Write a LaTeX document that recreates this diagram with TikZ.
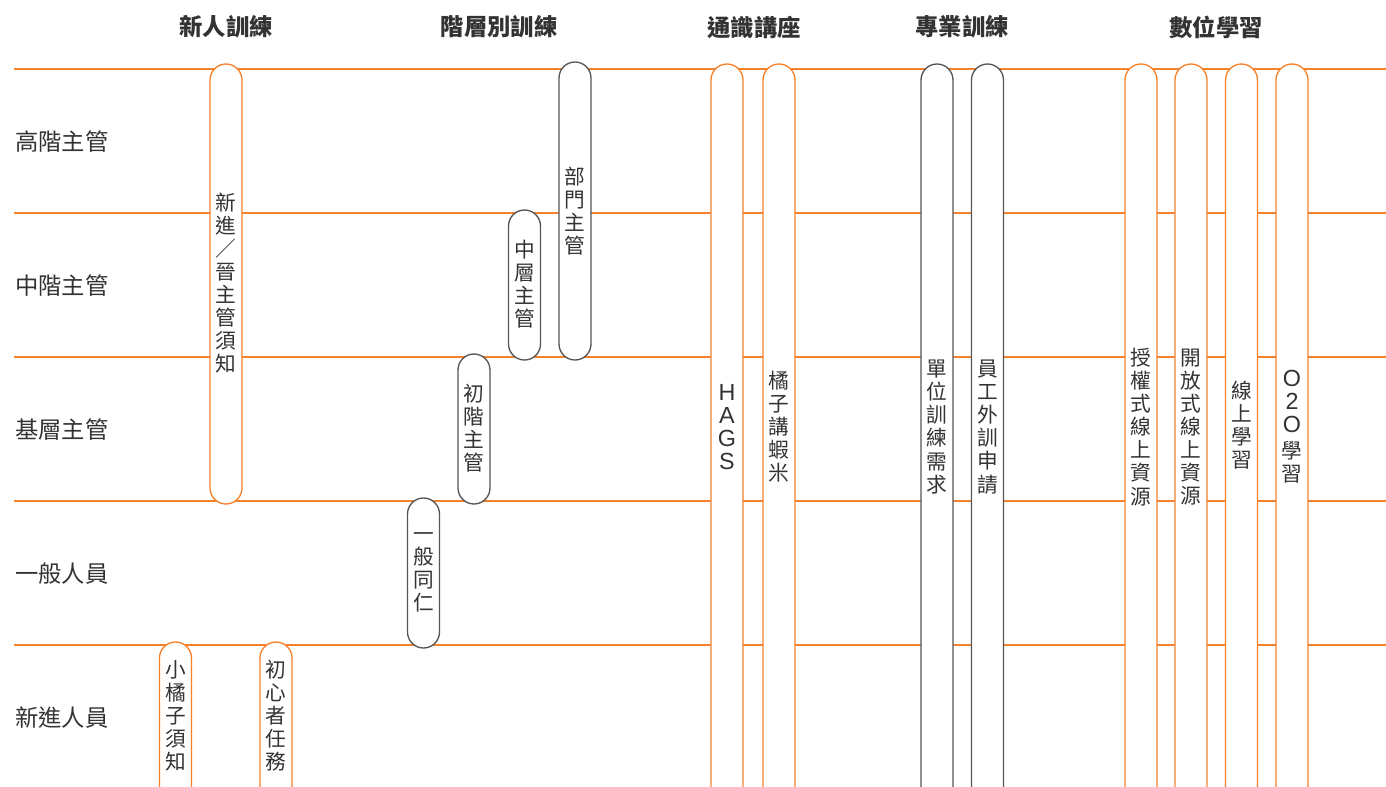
\documentclass[tikz,border=0pt]{standalone}
\usepackage{fontspec}
\setmainfont{Noto Sans CJK TC}
\newfontfamily\latinf{Liberation Sans}
\definecolor{orr}{HTML}{F5822A}
\definecolor{grr}{HTML}{555555}
\definecolor{txt}{HTML}{333333}
\begin{document}
\begin{tikzpicture}[x=0.75pt,y=-0.75pt,
 hline/.style={draw=orr, line width=0.85pt},
 pillO/.style={draw=orr, fill=white, line width=1pt, rounded corners=12pt},
 pillG/.style={draw=grr, fill=white, line width=1pt, rounded corners=12pt},
 vtext/.style={text=txt, font=\fontsize{15.5}{17.3}\selectfont, align=center, inner sep=0pt},
 ltext/.style={text=txt, font=\latinf\fontsize{17.5}{17.3}\selectfont, align=center, inner sep=0pt},
 rowlab/.style={text=txt, font=\fontsize{17.5}{20}\selectfont, anchor=west, inner sep=0pt},
 head/.style={text=txt, font=\fontsize{17.5}{20}\selectfont\bfseries, inner sep=0pt}]
\useasboundingbox (0,0) rectangle (1386,786);
\clip (0,0) rectangle (1386,786);
% horizontal lines
\foreach \yy in {69,213,357,501,645} \draw[hline] (14,\yy) -- (1386,\yy);
% headers
\node[head] (h1) at (226,27) {新人訓練};
\node[head] (h2) at (499,27) {階層別訓練};
\node[head] (h3) at (754,27) {通識講座};
\node[head] (h4) at (962,27) {專業訓練};
\node[head] (h5) at (1216,27) {數位學習};
% row labels
\node[rowlab] (r1) at (15,142) {高階主管};
\node[rowlab] (r2) at (15,286) {中階主管};
\node[rowlab] (r3) at (15,430) {基層主管};
\node[rowlab] (r4) at (15,574) {一般人員};
\node[rowlab] (r5) at (15,718) {新進人員};
% pills
\draw[pillO] (210,64) rectangle (242,504);
\node[vtext] (p1) at (226,283) {新\\進\\／\\晉\\主\\管\\須\\知};
\draw[pillO] (159.5,642) rectangle (191.5,840);
\node[vtext] (p2) at (175.5,716) {小\\橘\\子\\須\\知};
\draw[pillO] (260,642) rectangle (292,840);
\node[vtext] (p3) at (276,716) {初\\心\\者\\任\\務};
\draw[pillG] (407.5,498) rectangle (439.5,648);
\node[vtext] (p4) at (423.5,572) {一\\般\\同\\仁};
\draw[pillG] (458,354) rectangle (490,504);
\node[vtext] (p5) at (474,428) {初\\階\\主\\管};
\draw[pillG] (508.5,210) rectangle (540.5,360);
\node[vtext] (p6) at (524.5,284) {中\\層\\主\\管};
\draw[pillG] (559,62) rectangle (591,360);
\node[vtext] (p7) at (575,211) {部\\門\\主\\管};
\draw[pillO] (711,64) rectangle (743,840);
\node[ltext] (p8) at (727,427) {H\\A\\G\\S};
\draw[pillO] (763,64) rectangle (795,840);
\node[vtext] (p9) at (779,427) {橘\\子\\講\\蝦\\米};
\draw[pillG] (921,64) rectangle (953,840);
\node[vtext] (p10) at (937,427) {單\\位\\訓\\練\\需\\求};
\draw[pillG] (971.5,64) rectangle (1003.5,840);
\node[vtext] (p11) at (987.5,427) {員\\工\\外\\訓\\申\\請};
\draw[pillO] (1125,64) rectangle (1157,840);
\node[vtext] (p12) at (1141,427) {授\\權\\式\\線\\上\\資\\源};
\draw[pillO] (1175,64) rectangle (1207,840);
\node[vtext] (p13) at (1191,427) {開\\放\\式\\線\\上\\資\\源};
\draw[pillO] (1225.5,64) rectangle (1257.5,840);
\node[vtext] (p14) at (1241.5,425) {線\\上\\學\\習};
\draw[pillO] (1276,64) rectangle (1308,840);
\node[vtext] (p15) at (1292,427) {{\latinf\fontsize{17.5}{17.3}\selectfont O}\\{\latinf\fontsize{17.5}{17.3}\selectfont 2}\\{\latinf\fontsize{17.5}{17.3}\selectfont O}\\[2pt]學\\習};
\end{tikzpicture}
\end{document}
